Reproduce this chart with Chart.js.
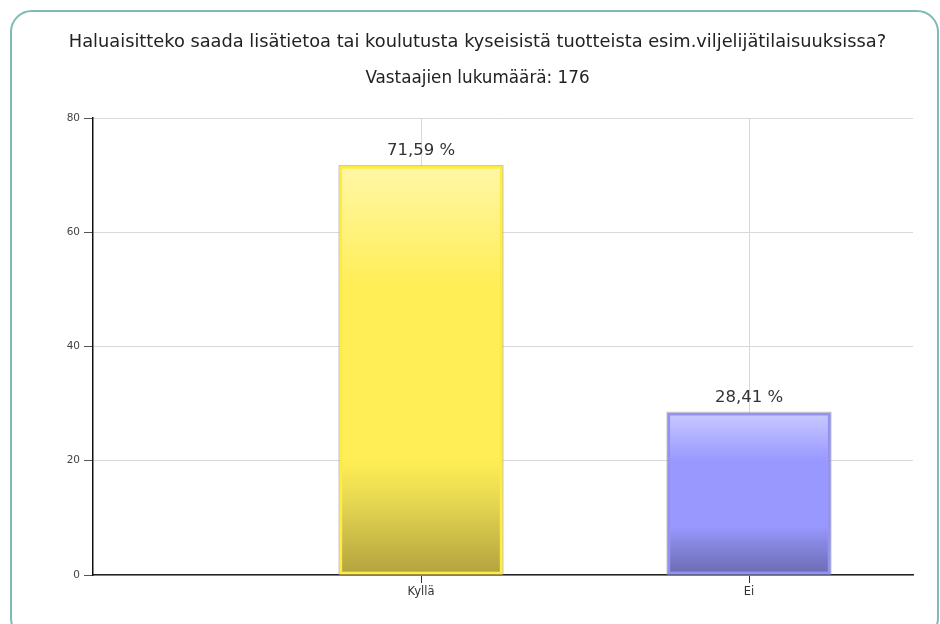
<!DOCTYPE html>
<html>
<head>
<meta charset="utf-8">
<script src="https://cdn.jsdelivr.net/npm/chart.js@4.4.0/dist/chart.umd.min.js"></script>
<style>
  html, body { margin: 0; padding: 0; background: #fff; }
  body { width: 940px; height: 624px; position: relative; overflow: hidden; }
  #frame { position: absolute; left: 10px; top: 10px; width: 929px; height: 630px;
           border: 2px solid #80b9b6; border-radius: 22px; box-sizing: border-box; }
  #wrap { position: absolute; left: 0; top: 0; width: 940px; height: 624px; }
</style>
</head>
<body>
<div id="frame"></div>
<div id="wrap"><canvas id="c" width="940" height="624"></canvas></div>
<script>
const titleText = 'Haluaisitteko saada lisätietoa tai koulutusta kyseisistä tuotteista esim.viljelijätilaisuuksissa?';
const subtitleText = 'Vastaajien lukumäärä: 176';
const categories = ['Kyllä', 'Ei'];
const values = [71.59, 28.41];
const yTicks = [0, 20, 40, 60, 80];

const FONT = '"DejaVu Sans", Verdana, sans-serif';

const gradients = [
  [['#fff7a6', 0], ['#ffee55', 0.3], ['#ffee55', 0.72], ['#e6d752', 0.82], ['#b2a23d', 1]],
  [['#c9c9ff', 0], ['#9898ff', 0.3], ['#9898ff', 0.7], ['#8585dd', 0.82], ['#6a6ab2', 1]]
];
const borders = ['#ffec40', '#9292f2'];

function barFill(ctx) {
  const chart = ctx.chart;
  if (!chart.chartArea || !ctx.parsed) return '#ccc';
  const ys = chart.scales.y;
  const top = ys.getPixelForValue(ctx.parsed.y);
  const bottom = ys.getPixelForValue(0);
  const g = chart.ctx.createLinearGradient(0, top, 0, bottom);
  gradients[ctx.dataIndex].forEach(([c, s]) => g.addColorStop(s, c));
  return g;
}

const valueLabels = {
  id: 'valueLabels',
  afterDatasetsDraw(chart) {
    const c = chart.ctx;
    const meta = chart.getDatasetMeta(0);
    c.save();
    c.font = '16.5px ' + FONT;
    c.fillStyle = '#333';
    c.textAlign = 'center';
    c.textBaseline = 'middle';
    meta.data.forEach((el, i) => {
      const txt = values[i].toFixed(2).replace('.', ',') + ' %';
      c.fillText(txt, el.x, el.y - 15);
    });
    c.restore();
  }
};

const barOutline = {
  id: 'barOutline',
  afterDatasetsDraw(chart) {
    const c = chart.ctx;
    const meta = chart.getDatasetMeta(0);
    c.save();
    c.strokeStyle = 'rgba(130,130,130,0.45)';
    c.lineWidth = 1;
    meta.data.forEach((el) => {
      const l = el.x - el.width / 2, r = el.x + el.width / 2;
      c.strokeRect(l - 0.5, el.y - 0.5, r - l + 1, el.base - el.y + 1);
    });
    c.restore();
  }
};

new Chart(document.getElementById('c'), {
  type: 'bar',
  data: {
    datasets: [{
      data: categories.map((_, i) => ({ x: i, y: values[i] })),
      backgroundColor: barFill,
      borderColor: borders,
      borderWidth: 3,
      borderSkipped: false,
      barThickness: 163
    }]
  },
  plugins: [valueLabels, barOutline],
  options: {
    responsive: false,
    animation: false,
    devicePixelRatio: 1,
    layout: { padding: { left: 42, right: 27, top: 0, bottom: 0 } },
    plugins: {
      legend: { display: false },
      tooltip: { enabled: false },
      title: {
        display: true, text: titleText, color: '#222',
        font: { family: FONT, size: 17.8, weight: 'normal' },
        padding: { top: 32, bottom: 8 }
      },
      subtitle: {
        display: true, text: subtitleText, color: '#222',
        font: { family: FONT, size: 16.8, weight: 'normal' },
        padding: { top: 7.5, bottom: 29 }
      }
    },
    scales: {
      x: {
        type: 'linear', min: -1, max: 1.5, offset: false,
        afterBuildTicks(s) { s.ticks = categories.map((_, i) => ({ value: i })); },
        afterFit(s) { s.height = 49; },
        ticks: {
          callback: (v) => categories[v] ?? '',
          color: '#333', padding: 2,
          font: { family: FONT, size: 11.5 }
        },
        grid: { offset: false, color: '#d9d9d9', tickColor: '#333', tickLength: 8, lineWidth: 1 },
        border: { color: '#222', width: 1.5 }
      },
      y: {
        min: 0, max: 80,
        afterBuildTicks(s) { s.ticks = yTicks.map(v => ({ value: v })); },
        afterFit(s) { s.width = 51; },
        ticks: {
          color: '#444', padding: 4,
          font: { family: FONT, size: 10.5 }
        },
        grid: { color: '#d9d9d9', tickColor: '#555', tickLength: 9, lineWidth: 1 },
        border: { color: '#111', width: 1.5 }
      }
    }
  }
});
</script>
</body>
</html>
